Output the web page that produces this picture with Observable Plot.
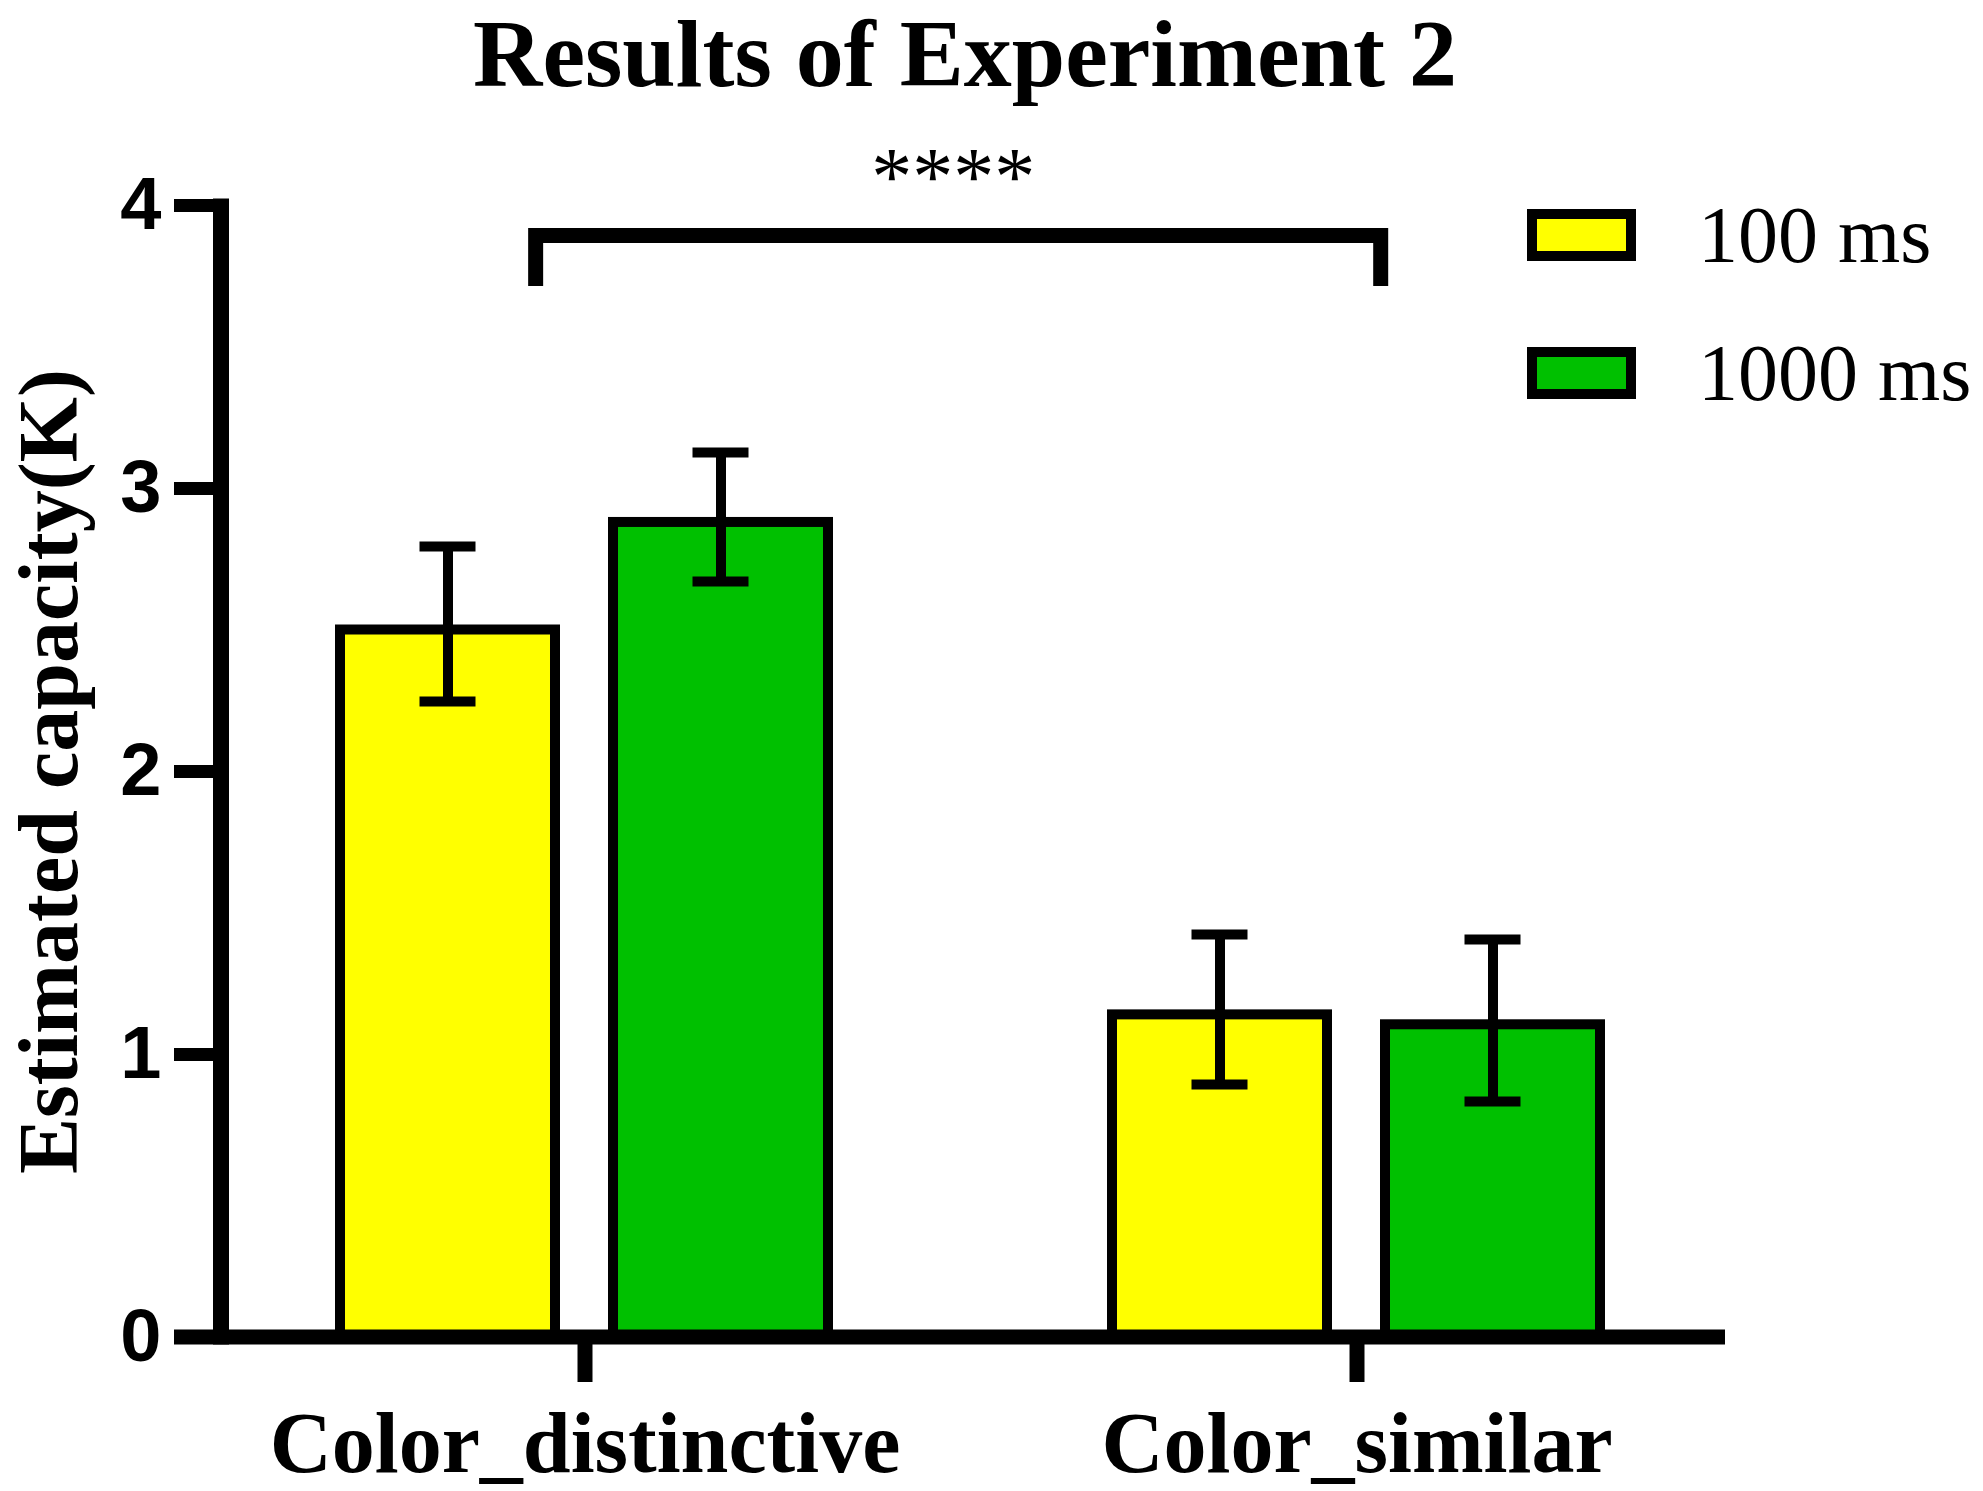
<!DOCTYPE html>
<html>
<head>
<meta charset="utf-8">
<script src="https://cdn.jsdelivr.net/npm/d3@7"></script>
<script src="https://cdn.jsdelivr.net/npm/@observablehq/plot@0.6"></script>
<style>
html, body { margin: 0; padding: 0; background: #fff; overflow: hidden; }
#wrap { position: relative; width: 1983px; height: 1491px; overflow: hidden; background: #fff; }
#wrap svg { position: absolute; left: 0; top: 0; }
#title { position: absolute; left: 0; top: 15px; width: 1930px; margin: 0; text-align: center;
  font: bold 96px/0.82 "Liberation Serif", "Times New Roman", serif; color: #000; }
</style>
</head>
<body>
<div id="wrap"></div>
<script>
// ---- data ----
const categories = ["Color_distinctive", "Color_similar"];
const conditions = ["100 ms", "1000 ms"];
const mean100  = [2.50, 1.14];
const mean1000 = [2.88, 1.105];
const upper100  = [2.795, 1.424];
const lower100  = [2.247, 0.894];
const upper1000 = [3.127, 1.406];
const lower1000 = [2.671, 0.834];
const yTicks = [0, 1, 2, 3, 4];
const colors = ["#ffff00", "#00c000"];
const yLabel = "Estimated capacity(K)";
const titleText = "Results of Experiment 2";
const significance = "****";
const bracketLevel = 3.892;
const bracketDrop = 3.714;

const rows = [];
categories.forEach((c, i) => {
  rows.push({category: c, condition: conditions[0], mean: mean100[i], lo: lower100[i], hi: upper100[i]});
  rows.push({category: c, condition: conditions[1], mean: mean1000[i], lo: lower1000[i], hi: upper1000[i]});
});

const chart = Plot.plot({
  width: 1983,
  height: 1491,
  marginLeft: 220,
  marginRight: 262,
  marginTop: 205,
  marginBottom: 154,
  style: {background: "transparent", color: "#000", overflow: "visible"},
  facet: {margin: 0},
  fx: {domain: categories, paddingInner: 0.058, paddingOuter: 0},
  x: {domain: conditions, paddingInner: 0.2117, paddingOuter: 0.434, axis: null},
  y: {domain: [0, 4]},
  color: {domain: conditions, range: colors},
  marks: [
    Plot.barY(rows, {fx: "category", x: "condition", y: "mean", fill: "condition", stroke: "#000", strokeWidth: 10}),
    Plot.ruleX(rows, {fx: "category", x: "condition", y1: "lo", y2: "hi", stroke: "#000", strokeWidth: 10}),
    Plot.tickY(rows, {fx: "category", x: "condition", y: "hi", stroke: "#000", strokeWidth: 10, inset: 79.5}),
    Plot.tickY(rows, {fx: "category", x: "condition", y: "lo", stroke: "#000", strokeWidth: 10, inset: 79.5}),
    Plot.axisY(yTicks, {anchor: "left", tickSize: 47, tickPadding: 13, strokeWidth: 13, stroke: "#000",
      tickFormat: d => String(d),
      fontSize: 74, fontWeight: "bold", fontFamily: "Liberation Sans, Arial, sans-serif", fill: "#000", label: null}),
    Plot.axisY([], {anchor: "left", label: yLabel, labelAnchor: "center", labelOffset: 204, labelArrow: "none",
      fontSize: 84, fontWeight: "bold", fontFamily: "Liberation Serif, Times New Roman, serif", fill: "#000"}),
    Plot.axisFx({anchor: "bottom", tickSize: 45, tickPadding: 28, strokeWidth: 15, stroke: "#000",
      fontSize: 86, fontWeight: "bold", fontFamily: "Liberation Serif, Times New Roman, serif", fill: "#000", label: null})
  ]
});

document.getElementById("wrap").appendChild(chart);
const h1 = document.createElement("h1");
h1.id = "title";
h1.textContent = titleText;
document.getElementById("wrap").appendChild(h1);

// ---- axis lines, significance bracket and legend, positioned with Plot's scales ----
const fx = chart.scale("fx"), xs = chart.scale("x"), ys = chart.scale("y"), cs = chart.scale("color");
const svg = d3.select(chart);
const g = svg.append("g").attr("class", "overlay").attr("text-anchor", "start");
const x0 = fx.apply(categories[0]);
const xEnd = fx.apply(categories[1]) + fx.bandwidth;
// position of a condition band inside a category facet, in whole-plot pixels
const pos = (cat, cond, frac) => fx.apply(cat) - xs.range[0] + xs.apply(cond) + frac * xs.bandwidth;

g.append("line").attr("x1", x0).attr("x2", x0)
  .attr("y1", ys.apply(4) - 6.5).attr("y2", ys.apply(0) + 7.5)
  .attr("stroke", "#000").attr("stroke-width", 16);
g.append("line").attr("x1", x0 - 47).attr("x2", xEnd + 5)
  .attr("y1", ys.apply(0)).attr("y2", ys.apply(0))
  .attr("stroke", "#000").attr("stroke-width", 15);

const bx1 = pos(categories[0], conditions[0], 0.91);
const bx2 = pos(categories[1], conditions[1], -0.02);
g.append("path")
  .attr("d", `M${bx1},${ys.apply(bracketDrop)}V${ys.apply(bracketLevel)}H${bx2}V${ys.apply(bracketDrop)}`)
  .attr("fill", "none").attr("stroke", "#000").attr("stroke-width", 15)
  .attr("stroke-linejoin", "miter");
g.append("text").text(significance)
  .attr("x", (bx1 + bx2) / 2 - 5).attr("y", ys.apply(4) - 1)
  .attr("text-anchor", "middle")
  .attr("font-family", "Liberation Serif, Times New Roman, serif")
  .attr("font-size", 82).attr("fill", "#000");

const legend = g.append("g").attr("class", "legend");
cs.domain.forEach((d, i) => {
  const top = 214 + i * 138;
  legend.append("rect").attr("x", 1532).attr("y", top).attr("width", 99).attr("height", 42)
    .attr("fill", cs.apply(d)).attr("stroke", "#000").attr("stroke-width", 10);
  legend.append("text").text(d).attr("x", 1698).attr("y", top + 48)
    .attr("text-anchor", "start")
    .attr("font-family", "Liberation Serif, Times New Roman, serif")
    .attr("font-size", 80).attr("fill", "#000");
});
</script>
</body>
</html>
